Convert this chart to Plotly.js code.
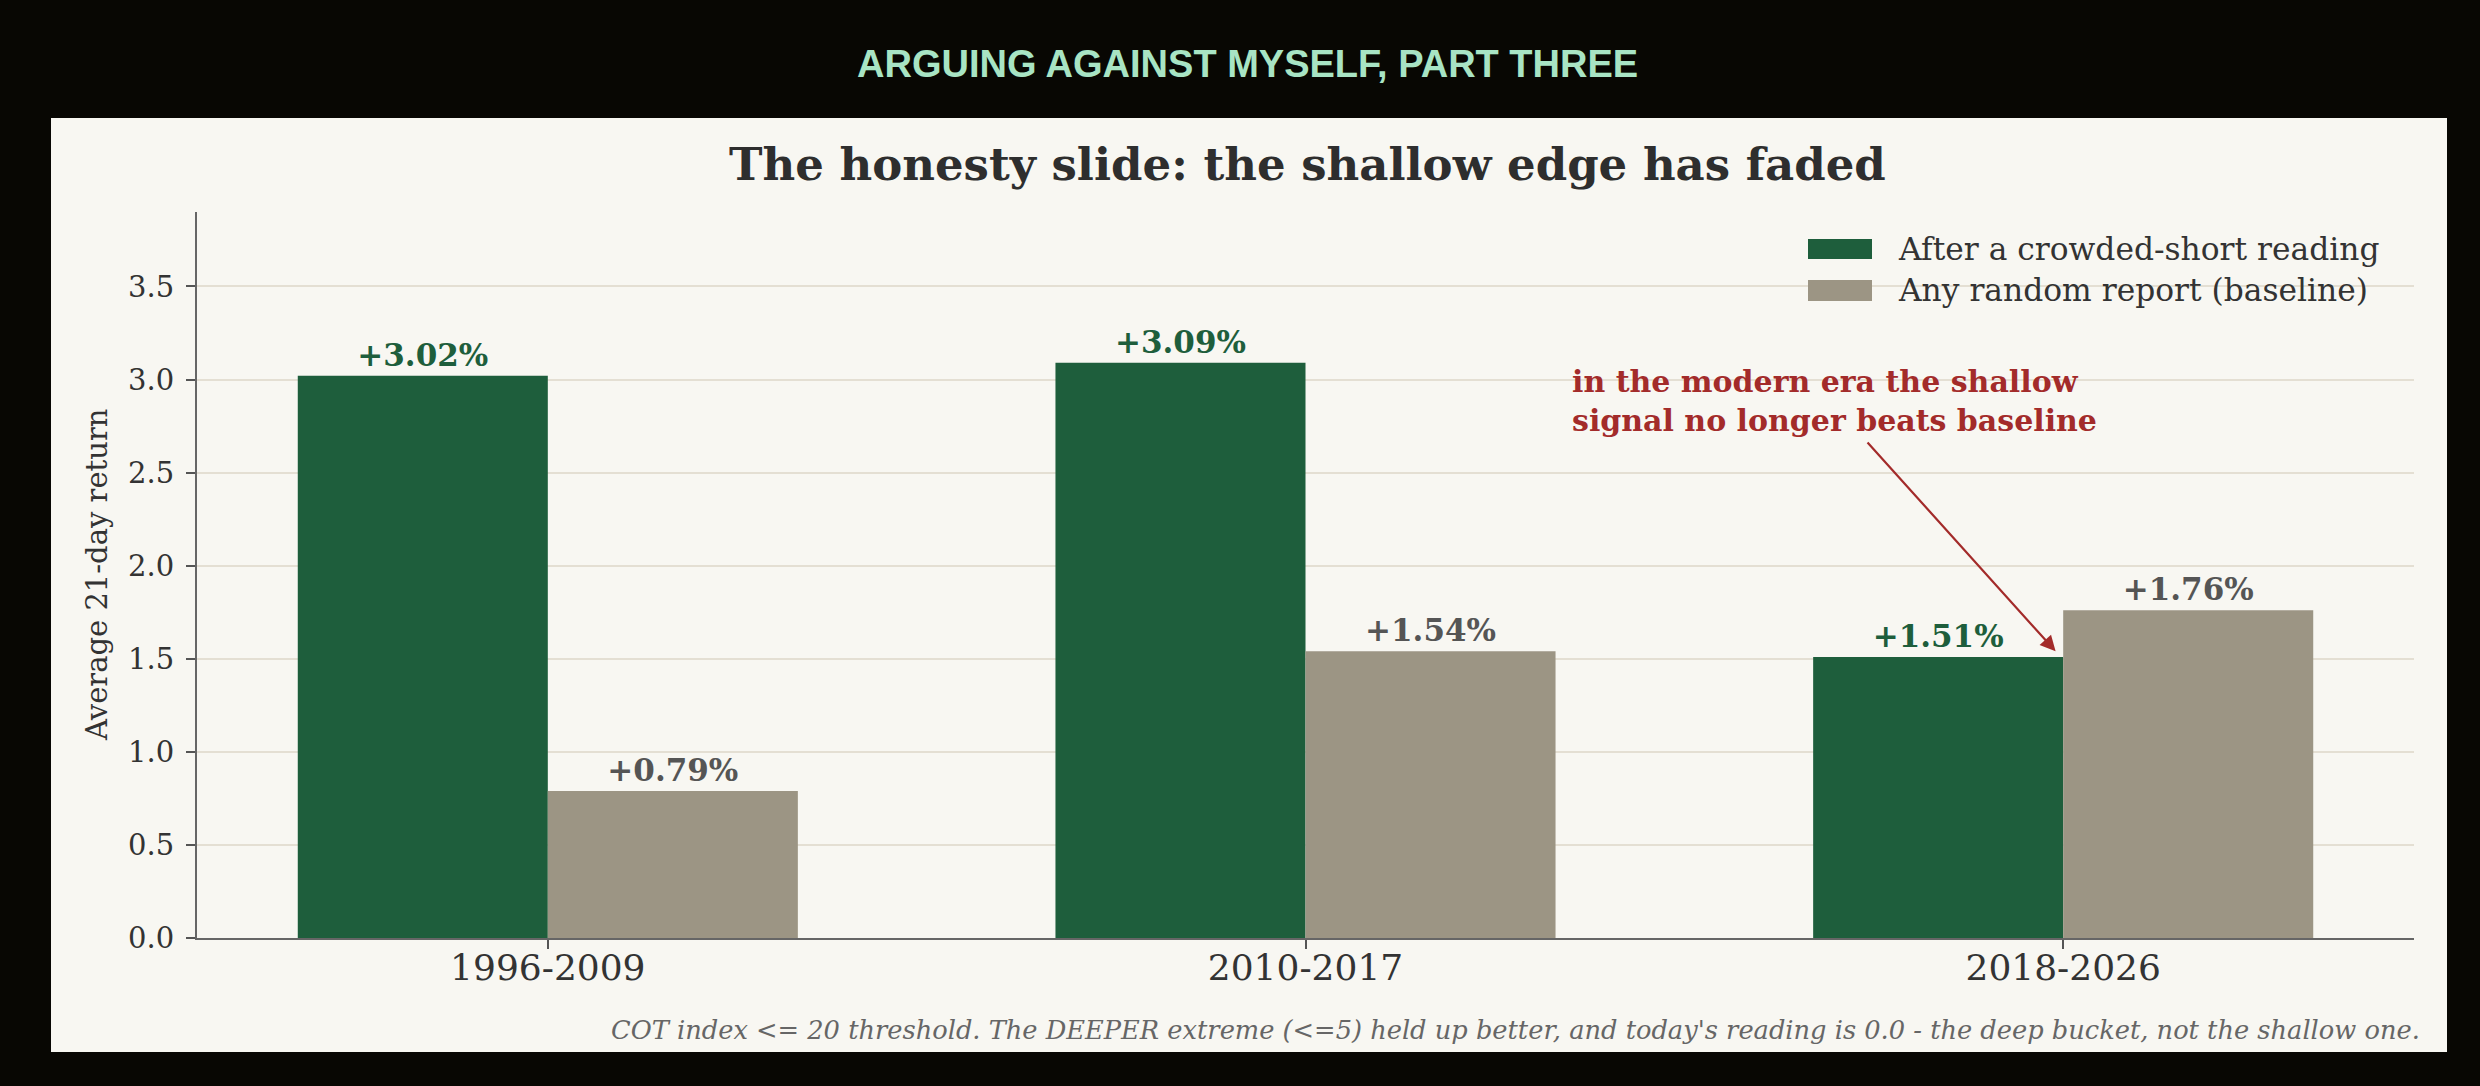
<!DOCTYPE html>
<html>
<head>
<meta charset="utf-8">
<script src="https://cdn.plot.ly/plotly-3.0.1.min.js"></script>
<style>
  html, body { margin: 0; padding: 0; background: #080703; }
  #plot { width: 2480px; height: 1086px; }
</style>
</head>
<body>
<div id="plot"></div>
<script>
const periods = ["1996-2009", "2010-2017", "2018-2026"];
const signalReturns = [3.02, 3.09, 1.51];
const baselineReturns = [0.79, 1.54, 1.76];
const seriesNames = ["After a crowded-short reading", "Any random report (baseline)"];
const noteLines = ["in the modern era the shallow", "signal no longer beats baseline"];

const GREEN = "#1e5e3c";
const GRAY = "#9c9584";
const RED = "#a32b2a";
const SERIF = "DejaVu Serif";

// figure size and plot margins in pixels
const W = 2480, H = 1086;
const M = { l: 197, r: 66, t: 212, b: 148 };
// pixel -> paper coords
const px = x => (x - M.l) / (W - M.l - M.r);
const py = y => (H - M.b - y) / (H - M.t - M.b);

function label(v) {
  return "+" + v.toFixed(2) + "%";
}

const signal = {
  x: periods,
  y: signalReturns,
  name: seriesNames[0],
  type: "bar",
  marker: { color: GREEN, line: { width: 0 } },
  text: signalReturns.map(label),
  textposition: "outside",
  constraintext: "none",
  cliponaxis: false,
  textfont: { family: SERIF, size: 31, color: GREEN, weight: "bold" },
  hoverinfo: "skip",
};

const baseline = {
  x: periods,
  y: baselineReturns,
  name: seriesNames[1],
  type: "bar",
  marker: { color: GRAY, line: { width: 0 } },
  text: baselineReturns.map(label),
  textposition: "outside",
  constraintext: "none",
  cliponaxis: false,
  textfont: { family: SERIF, size: 31, color: "#555555", weight: "bold" },
  hoverinfo: "skip",
};

const shapes = [
  // off-white card behind the chart
  {
    type: "rect", xref: "paper", yref: "paper", layer: "below",
    x0: px(51), x1: px(2447), y0: py(1052), y1: py(118),
    fillcolor: "#f8f7f2", line: { width: 0 },
  },
  // legend patches
  {
    type: "rect", xref: "paper", yref: "paper",
    x0: px(1808), x1: px(1872), y0: py(259), y1: py(239),
    fillcolor: GREEN, line: { width: 0 },
  },
  {
    type: "rect", xref: "paper", yref: "paper",
    x0: px(1808), x1: px(1872), y0: py(301), y1: py(280),
    fillcolor: GRAY, line: { width: 0 },
  },
];

const annotations = [
  {
    text: "ARGUING AGAINST MYSELF, PART THREE",
    xref: "paper", yref: "paper", x: px(1247), y: py(64),
    xanchor: "center", yanchor: "middle", showarrow: false,
    font: { family: "Liberation Sans", size: 38, color: "#a8e4c4", weight: "bold" },
  },
  {
    text: "The honesty slide: the shallow edge has faded",
    xref: "paper", yref: "paper", x: px(1307), y: py(165),
    xanchor: "center", yanchor: "middle", showarrow: false,
    font: { family: SERIF, size: 45, color: "#2e2e2e", weight: "bold" },
  },
  {
    text: "Average 21-day return",
    xref: "paper", yref: "paper", x: px(97), y: 0.5, textangle: -90,
    xanchor: "center", yanchor: "middle", showarrow: false,
    font: { family: SERIF, size: 29, color: "#333333" },
  },
  {
    text: seriesNames[0],
    xref: "paper", yref: "paper", x: px(1896), y: py(249),
    xanchor: "left", yanchor: "middle", showarrow: false,
    font: { family: SERIF, size: 31.3, color: "#333333" },
  },
  {
    text: seriesNames[1],
    xref: "paper", yref: "paper", x: px(1896), y: py(290),
    xanchor: "left", yanchor: "middle", showarrow: false,
    font: { family: SERIF, size: 31.3, color: "#333333" },
  },
  {
    // arrow pointing at the modern-era signal bar
    text: "",
    xref: "x", yref: "y", x: 1.99, y: 1.54,
    axref: "x", ayref: "y", ax: 1.74, ay: 2.67,
    showarrow: true, arrowhead: 2, arrowsize: 1.4, arrowwidth: 2.2, arrowcolor: RED,
  },
  {
    text: noteLines.join("<br>"),
    xref: "x", yref: "y", x: 1.349, y: 2.885,
    xanchor: "left", yanchor: "middle", align: "left", showarrow: false,
    font: { family: SERIF, size: 30, color: RED, weight: "bold" },
  },
  {
    text: "COT index &lt;= 20 threshold. The DEEPER extreme (&lt;=5) held up better, and today's reading is 0.0 - the deep bucket, not the shallow one.",
    xref: "paper", yref: "paper", x: px(2422), y: py(1030),
    xanchor: "right", yanchor: "middle", showarrow: false,
    font: { family: SERIF, size: 25.7, color: "#666666", style: "italic" },
  },
];

const layout = {
  width: W,
  height: H,
  margin: M,
  paper_bgcolor: "#080703",
  plot_bgcolor: "rgba(0,0,0,0)",
  barmode: "group",
  bargap: 0.34,
  bargroupgap: 0,
  showlegend: false,
  font: { family: SERIF, color: "#333333" },
  xaxis: {
    type: "category",
    range: [-0.463, 2.463],
    showgrid: false,
    showline: true,
    linecolor: "#666666",
    linewidth: 2,
    ticks: "outside",
    ticklen: 9,
    tickwidth: 2,
    tickcolor: "#555555",
    ticklabelstandoff: -12,
    tickfont: { family: SERIF, size: 36, color: "#333333" },
    zeroline: false,
    fixedrange: true,
  },
  yaxis: {
    range: [0, 3.9],
    dtick: 0.5,
    tickformat: ".1f",
    showgrid: true,
    gridcolor: "#e4dfd3",
    gridwidth: 2,
    showline: true,
    linecolor: "#666666",
    linewidth: 2,
    ticks: "outside",
    ticklen: 9,
    tickwidth: 2,
    tickcolor: "#555555",
    ticklabelstandoff: 6,
    tickfont: { family: SERIF, size: 29, color: "#333333" },
    zeroline: false,
    fixedrange: true,
  },
  shapes: shapes,
  annotations: annotations,
};

Plotly.newPlot("plot", [signal, baseline], layout, { displayModeBar: false, staticPlot: true });
</script>
</body>
</html>
